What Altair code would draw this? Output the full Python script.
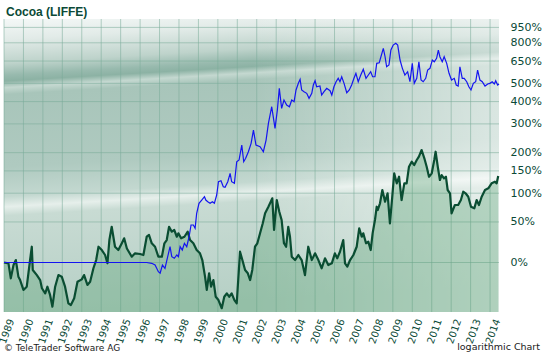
import altair as alt
import pandas as pd

# ---------------- data ----------------
green_years = [
    1989.00, 1989.23, 1989.35, 1989.49, 1989.61, 1989.74, 1989.83, 1990.00, 1990.17, 1990.34,
    1990.43, 1990.48, 1990.69, 1990.86, 1990.95, 1991.12, 1991.23, 1991.37, 1991.49, 1991.63,
    1991.80, 1991.97, 1992.14, 1992.31, 1992.44, 1992.61, 1992.78, 1993.00, 1993.12, 1993.29,
    1993.43, 1993.60, 1993.74, 1993.86, 1994.03, 1994.20, 1994.32, 1994.42, 1994.54, 1994.71,
    1994.88, 1995.06, 1995.18, 1995.32, 1995.57, 1995.74, 1996.00, 1996.17, 1996.34, 1996.46,
    1996.60, 1996.77, 1996.94, 1997.12, 1997.25, 1997.37, 1997.49, 1997.63, 1997.76, 1997.89,
    1997.97, 1998.11, 1998.28, 1998.45, 1998.57, 1998.74, 1998.91, 1999.08, 1999.20, 1999.34,
    1999.43, 1999.55, 1999.65, 1999.77, 1999.89, 2000.03, 2000.20, 2000.33, 2000.46, 2000.58,
    2000.71, 2000.85, 2000.97, 2001.14, 2001.26, 2001.40, 2001.54, 2001.66, 2001.77, 2001.91,
    2002.03, 2002.17, 2002.31, 2002.43, 2002.60, 2002.72, 2002.80, 2002.89, 2003.03, 2003.16,
    2003.28, 2003.40, 2003.51, 2003.62, 2003.71, 2003.80, 2003.97, 2004.14, 2004.31, 2004.48,
    2004.65, 2004.83, 2005.00, 2005.17, 2005.34, 2005.51, 2005.68, 2005.86, 2006.02, 2006.14,
    2006.28, 2006.45, 2006.54, 2006.66, 2006.80, 2006.97, 2007.14, 2007.27, 2007.40, 2007.48,
    2007.62, 2007.74, 2007.86, 2007.96, 2008.08, 2008.17, 2008.22, 2008.34, 2008.46, 2008.60,
    2008.73, 2008.85, 2008.97, 2009.07, 2009.20, 2009.32, 2009.45, 2009.59, 2009.71, 2009.83,
    2009.97, 2010.10, 2010.23, 2010.34, 2010.48, 2010.62, 2010.74, 2010.86, 2011.00, 2011.13,
    2011.20, 2011.31, 2011.42, 2011.51, 2011.63, 2011.73, 2011.82, 2011.94, 2012.02, 2012.19,
    2012.36, 2012.50, 2012.62, 2012.74, 2012.88, 2013.02, 2013.19, 2013.31, 2013.43, 2013.57,
    2013.74, 2013.91, 2014.08, 2014.25, 2014.34, 2014.42,
]
green_pct = [
    0, -0.8, -14.6, -2.5, 2.5, -13.2, -16.1, -24.0, -21.5, 2.5,
    17.1, -7.2, -11.8, -16.1, -22.7, -26.5, -21.5, -27.7, -35.7, -21.5,
    -11.8, -13.2, -21.5, -33.5, -34.6, -30.1, -17.5, -15.5, -11.8, -20.1,
    -17.5, -5.6, 2.5, 17.1, 13.3, 7.8, -0.8, 25.2, 43.0, 17.1,
    13.3, 21.2, 27.4, 15.0, 6.0, 9.6, 8.9, 7.8, 29.4, 31.7,
    21.2, 17.1, 6.0, 6.0, 21.2, 25.2, 43.0, 36.1, 38.4, 29.4,
    33.9, 27.4, 29.4, 36.1, 25.2, 21.2, 13.3, 9.6, 2.5, -13.2,
    -24.0, -10.2, -21.5, -16.1, -29.0, -31.3, -36.7, -29.0, -26.5, -29.0,
    -26.5, -31.3, -33.5, 11.4, 2.5, -7.2, -10.2, -16.1, -7.2, 17.1,
    21.2, 33.9, 48.0, 63.6, 74.7, 83.7, 90.0, 38.4, 86.8, 66.2,
    53.0, 21.2, 17.1, 43.0, 29.4, 6.0, 2.5, 7.8, 2.5, -11.8,
    17.1, 2.5, 9.6, 2.5, -5.6, 4.3, -2.5, -0.8, 9.6, 4.3,
    11.4, 25.2, -0.8, -4.1, 2.5, 7.8, 17.1, 40.8, 29.4, 33.9,
    21.2, 23.1, 13.3, 33.9, 53.0, 74.7, 69.0, 80.8, 106.5, 83.7,
    99.8, 48.0, 93.1, 144.0, 120.8, 135.8, 86.8, 120.8, 120.8, 160.7,
    174.0, 165.1, 178.7, 188.1, 208.0, 183.5, 160.7, 135.8, 144.0, 178.7,
    202.8, 160.7, 128.2, 139.9, 132.1, 135.8, 106.5, 99.8, 63.6, 77.7,
    77.7, 86.8, 103.0, 99.8, 93.1, 74.7, 71.9, 86.8, 77.7, 93.1,
    106.5, 110.0, 120.8, 124.3, 120.8, 137.5,
]

blue_years = [
    1989.00, 1996.34, 1996.60, 1996.77, 1996.94, 1997.03, 1997.15, 1997.28, 1997.42, 1997.54,
    1997.63, 1997.76, 1997.89, 1997.97, 1998.06, 1998.17, 1998.28, 1998.40, 1998.52, 1998.62,
    1998.74, 1998.83, 1998.91, 1999.03, 1999.17, 1999.31, 1999.38, 1999.48, 1999.60, 1999.72,
    1999.82, 1999.94, 2000.03, 2000.16, 2000.28, 2000.37, 2000.51, 2000.63, 2000.71, 2000.85,
    2000.97, 2001.09, 2001.23, 2001.33, 2001.43, 2001.57, 2001.71, 2001.83, 2001.96, 2002.17,
    2002.34, 2002.48, 2002.60, 2002.77, 2002.94, 2003.06, 2003.16, 2003.28, 2003.40, 2003.54,
    2003.68, 2003.80, 2003.92, 2004.02, 2004.14, 2004.23, 2004.31, 2004.43, 2004.57, 2004.69,
    2004.83, 2004.91, 2005.00, 2005.08, 2005.25, 2005.34, 2005.46, 2005.60, 2005.77, 2005.86,
    2005.97, 2006.08, 2006.19, 2006.28, 2006.37, 2006.49, 2006.63, 2006.76, 2006.88, 2007.00,
    2007.10, 2007.22, 2007.35, 2007.48, 2007.62, 2007.74, 2007.86, 2007.96, 2008.08, 2008.17,
    2008.30, 2008.51, 2008.60, 2008.68, 2008.80, 2008.90, 2009.02, 2009.15, 2009.25, 2009.37,
    2009.49, 2009.62, 2009.76, 2009.88, 2010.00, 2010.10, 2010.23, 2010.34, 2010.45, 2010.56,
    2010.69, 2010.79, 2010.91, 2011.03, 2011.13, 2011.25, 2011.34, 2011.42, 2011.54, 2011.64,
    2011.77, 2011.89, 2012.02, 2012.16, 2012.26, 2012.36, 2012.45, 2012.57, 2012.67, 2012.80,
    2012.91, 2013.02, 2013.14, 2013.26, 2013.36, 2013.48, 2013.60, 2013.74, 2013.88, 2013.99,
    2014.11, 2014.22, 2014.29, 2014.39, 2014.46,
]
blue_pct = [
    0, 0, -0.8, -2.5, -8.8, -10.2, -2.5, -5.6, 6.0, 17.1,
    6.0, 4.3, 7.8, 6.0, 17.1, 13.3, 21.2, 17.1, 29.4, 45.5,
    45.5, 40.8, 63.6, 80.8, 86.8, 93.1, 86.8, 83.7, 80.8, 83.7,
    80.8, 96.4, 124.3, 126.6, 113.4, 112.1, 124.3, 144.0, 124.3, 120.8,
    174.0, 178.7, 223.8, 174.0, 183.5, 202.8, 229.4, 276.2, 223.8, 218.4,
    202.8, 240.4, 302.3, 374.9, 282.7, 359.5, 470.9, 367.4, 407.8, 383.1,
    374.9, 407.8, 399.3, 461.3, 500.1, 524.6, 461.3, 451.8, 443.0, 416.5,
    443.0, 490.0, 516.0, 480.1, 484.2, 433.9, 451.8, 470.9, 457.3, 433.9,
    480.1, 509.8, 530.9, 509.8, 541.1, 500.1, 446.3, 461.3, 490.0, 530.9,
    563.3, 509.8, 552.1, 590.3, 530.9, 552.1, 573.9, 541.1, 541.1, 633.0,
    637.4, 751.6, 683.0, 608.4, 620.6, 737.3, 780.2, 795.3, 780.2, 657.6,
    597.2, 552.1, 573.9, 509.8, 633.0, 500.1, 530.9, 644.8, 520.3, 509.8,
    530.9, 585.5, 597.2, 657.6, 644.8, 670.6, 737.3, 683.0, 644.8, 683.0,
    633.0, 563.3, 520.3, 530.9, 490.0, 484.2, 608.4, 530.9, 530.9, 509.8,
    480.1, 461.3, 500.1, 509.8, 585.5, 520.3, 509.8, 484.2, 496.0, 500.1,
    509.8, 496.0, 516.0, 490.0, 496.0,
]

tick_pct = [0, 50, 100, 150, 200, 300, 400, 500, 650, 800, 950]
year_ticks = list(range(1989, 2015))

title_text = "Cocoa (LIFFE)"
credit_text = "\u00a9 TeleTrader Software AG"
scale_note = "logarithmic Chart"

# ---------------- layout / style ----------------
W, H = 495, 293
X_DOMAIN = [1989.0, 2014.46]
Y_DOMAIN = [0.6096, 11.42]
TXT = "#0b4a37"

green = pd.DataFrame({"year": green_years, "pct": green_pct})
blue = pd.DataFrame({"year": blue_years, "pct": blue_pct})
ticks = pd.DataFrame({"pct": tick_pct})
years = pd.DataFrame({"year": year_ticks})
one = pd.DataFrame({"a": [0]})

x_scale = alt.Scale(domain=X_DOMAIN, nice=False, zero=False)
y_scale = alt.Scale(type="log", domain=Y_DOMAIN, nice=False)

x_axis = alt.Axis(
    values=year_ticks, format="d", labelAngle=290, labelAlign="right",
    labelBaseline="middle", labelOffset=7, labelPadding=7, ticks=False,
    domain=False, grid=False, labelFont="DejaVu Sans", labelFontSize=10,
    labelColor=TXT, title=None, labelOverlap=False, labelFlush=False,
    labelBound=False,
)
y_axis = alt.Axis(
    orient="right", values=[1 + p / 100 for p in tick_pct],
    labelExpr="format(round((datum.value - 1) * 100), 'd') + '%'",
    ticks=False, domain=False, grid=False, labelPadding=11,
    labelFont="DejaVu Sans", labelFontSize=11, labelColor=TXT, title=None,
    labelOverlap=False, labelFlush=False, labelBound=False,
)

X = alt.X("year:Q", scale=x_scale, axis=x_axis)
Y = alt.Y("ratio:Q", scale=y_scale, axis=y_axis)
RATIO = "1 + datum.pct / 100"


def stops(pairs):
    return [alt.GradientStop(color=c, offset=o) for o, c in pairs]


bg_grad = alt.LinearGradient(
    gradient="linear", x1=0, y1=0, x2=0.1, y2=1,
    stops=stops([
        (0.00, "#f4f8f7"), (0.07, "#e2ebe8"), (0.15, "#bed3cb"),
        (0.19, "#98baae"), (0.21, "#8cb2a4"), (0.232, "#c4d8d0"),
        (0.255, "#a8c5ba"), (0.50, "#afcac0"), (0.60, "#c3d8d0"),
        (0.635, "#e6efeb"), (0.665, "#c8dbd3"), (0.87, "#bdd4cb"),
        (1.00, "#b6d0c5"),
    ]),
)
fade_grad = alt.LinearGradient(
    gradient="linear", x1=0, y1=0, x2=1, y2=0,
    stops=stops([(0.0, "rgba(255,255,255,0)"), (0.5, "rgba(255,255,255,0)"),
                 (1.0, "rgba(255,255,255,0.55)")]),
)

bg = alt.Chart(one).mark_rect(fill=bg_grad, strokeWidth=0).encode(
    x=alt.value(0), x2=alt.value(W), y=alt.value(0), y2=alt.value(H))
fade = alt.Chart(one).mark_rect(fill=fade_grad, strokeWidth=0).encode(
    x=alt.value(0), x2=alt.value(W), y=alt.value(0), y2=alt.value(H))

vgrid = alt.Chart(years).mark_rule(color="#7aab99", strokeWidth=1, opacity=0.55).encode(x=X)
hgrid = alt.Chart(ticks).transform_calculate(ratio=RATIO).mark_rule(
    color="#7aab99", strokeWidth=1, opacity=0.55).encode(y=Y)

area = alt.Chart(green).transform_calculate(
    ratio=RATIO, base=str(Y_DOMAIN[0])
).mark_area(color="#4f9a6a", opacity=0.32).encode(
    x=X, y=Y, y2=alt.Y2("base:Q"),
)
gline = alt.Chart(green).transform_calculate(ratio=RATIO).mark_line(
    color="#0a4d32", strokeWidth=2.2, strokeJoin="round").encode(x=X, y=Y)
bline = alt.Chart(blue).transform_calculate(ratio=RATIO).mark_line(
    color="#1414f0", strokeWidth=1.2).encode(x=X, y=Y)

title = alt.Chart(pd.DataFrame({"t": [title_text]})).mark_text(
    align="left", baseline="alphabetic", font="Liberation Sans", fontSize=12,
    fontWeight="bold", color=TXT).encode(
    x=alt.value(2), y=alt.value(-3), text="t:N")
credit = alt.Chart(pd.DataFrame({"t": [credit_text]})).mark_text(
    align="left", baseline="alphabetic", font="DejaVu Sans", fontSize=9,
    color="#1a1a1a").encode(x=alt.value(0), y=alt.value(332), text="t:N")
note = alt.Chart(pd.DataFrame({"t": [scale_note]})).mark_text(
    align="right", baseline="alphabetic", font="DejaVu Sans", fontSize=9.5,
    color="#1a1a1a").encode(x=alt.value(536), y=alt.value(331), text="t:N")

chart = alt.layer(
    bg, fade, vgrid, hgrid, area, gline, bline, title, credit, note
).properties(
    width=W, height=H,
    padding={"left": 4, "top": 19, "right": 45, "bottom": 41},
    autosize=alt.AutoSizeParams(type="none"),
    background="white",
).configure_view(stroke=None)

chart.save("out.html", embed_options={"renderer": "svg", "actions": False})
